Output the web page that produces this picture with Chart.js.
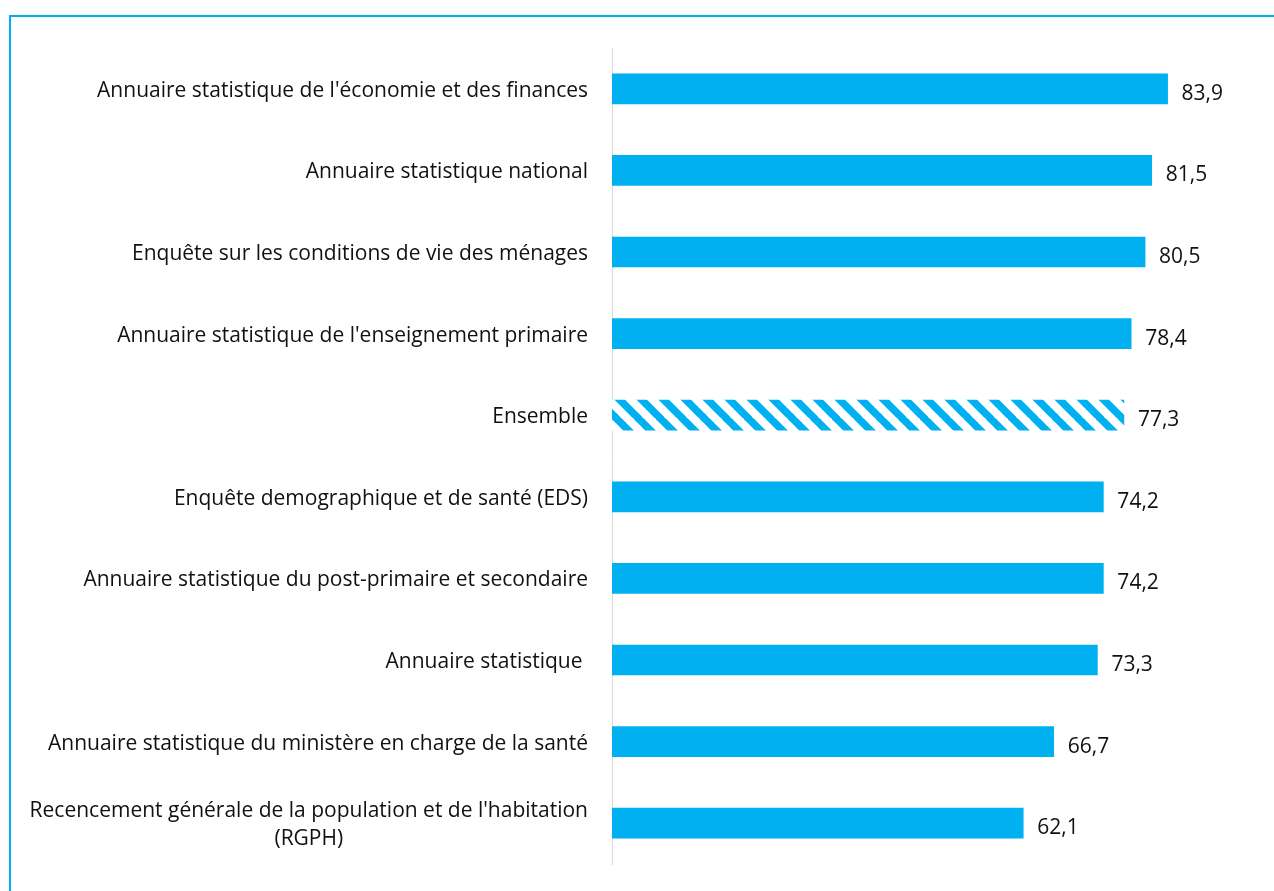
<!DOCTYPE html>
<html>
<head>
<meta charset="utf-8">
<script src="https://cdn.jsdelivr.net/npm/chart.js@4.4.1/dist/chart.umd.min.js"></script>
<style>
  html, body { margin: 0; padding: 0; background: #fff; overflow: hidden; }
  #frame { position: absolute; left: 9px; top: 15px; width: 1400px; height: 1000px;
           border-top: 2px solid #00b0f0; border-left: 2px solid #00b0f0; }
  #wrap { position: absolute; left: 0; top: 0; width: 1274px; height: 891px; }
</style>
</head>
<body>
<div id="frame"></div>
<div id="wrap"><canvas id="myChart"></canvas></div>
<script>
var labels = [
  "Annuaire statistique de l'économie et des finances",
  "Annuaire statistique national",
  "Enquête sur les conditions de vie des ménages",
  "Annuaire statistique de l'enseignement primaire",
  "Ensemble",
  "Enquête demographique et de santé (EDS)",
  "Annuaire statistique du post-primaire et secondaire",
  "Annuaire statistique ",
  "Annuaire statistique du ministère en charge de la santé",
  ["Recencement générale de la population et de l'habitation", "(RGPH)"]
]
var values = [83.9, 81.5, 80.5, 78.4, 77.3, 74.2, 74.2, 73.3, 66.7, 62.1]

var blue = "#00b0f0"
var font = "'Open Sans', sans-serif"

// taille de police ajustée sur la largeur de la 1re étiquette (~490px)
var mc = document.createElement('canvas').getContext('2d')
mc.font = "20px " + font
var fontSize = Math.round(20 * 490 / mc.measureText(labels[0]).width * 10) / 10

// hachures pour "Ensemble"
function makeHatch(){
  var s = 22
  var c = document.createElement('canvas')
  c.width = s; c.height = s
  var g = c.getContext('2d')
  g.fillStyle = '#fff'
  g.fillRect(0,0,s,s)
  g.strokeStyle = blue
  g.lineWidth = 7.5
  g.beginPath()
  for (var k = -1; k <= 1; k++) {
    g.moveTo(k*s - 2, -2)
    g.lineTo(k*s + s + 2, s + 2)
  }
  g.stroke()
  return g.createPattern(c, 'repeat')
}

var colors = labels.map(function(l){ return l === "Ensemble" ? makeHatch() : blue })

// étiquettes de l'axe et des valeurs
var labelPlugin = {
  id: 'labelPlugin',
  afterDatasetsDraw: function(chart){
    var ctx = chart.ctx
    var y = chart.scales.y
    var meta = chart.getDatasetMeta(0)
    ctx.save()
    ctx.font = fontSize + "px " + font
    ctx.fillStyle = "#111"
    ctx.textBaseline = 'middle'
    labels.forEach(function(l, i){
      var py = y.getPixelForTick(i) + 2
      var lines = Array.isArray(l) ? l : [l]
      var w = Math.max.apply(null, lines.map(function(t){ return ctx.measureText(t).width }))
      var right = chart.chartArea.left - 24
      lines.forEach(function(t, j){
        var ty = py + (j - (lines.length - 1) / 2) * 28
        ctx.textAlign = 'center'
        ctx.fillText(t, right - w / 2, ty)
      })
      var bar = meta.data[i]
      ctx.textAlign = 'left'
      ctx.fillText(values[i].toFixed(1).replace('.', ','), bar.x + 14, bar.y + 5)
    })
    ctx.restore()
  }
}

var chart = new Chart(document.getElementById("myChart"), {
  type: 'bar',
  data: {
    labels: labels,
    datasets: [{
      data: values,
      backgroundColor: colors,
      barThickness: 30,
      borderWidth: 0
    }]
  },
  options: {
    indexAxis: 'y',
    responsive: true,
    maintainAspectRatio: false,
    animation: false,
    layout: { padding: { left: 0, right: 66, top: 48, bottom: 27 } },
    plugins: { legend: { display: false }, tooltip: { enabled: false } },
    scales: {
      x: {
        display: false,
        min: 0,
        max: 90
      },
      y: {
        afterFit: function(scale){ scale.width = 612 },
        ticks: { display: false },
        grid: { display: false, drawTicks: false },
        border: { display: true, color: '#d9d9d9', width: 1 }
      }
    }
  },
  plugins: [labelPlugin]
})
</script>
</body>
</html>
